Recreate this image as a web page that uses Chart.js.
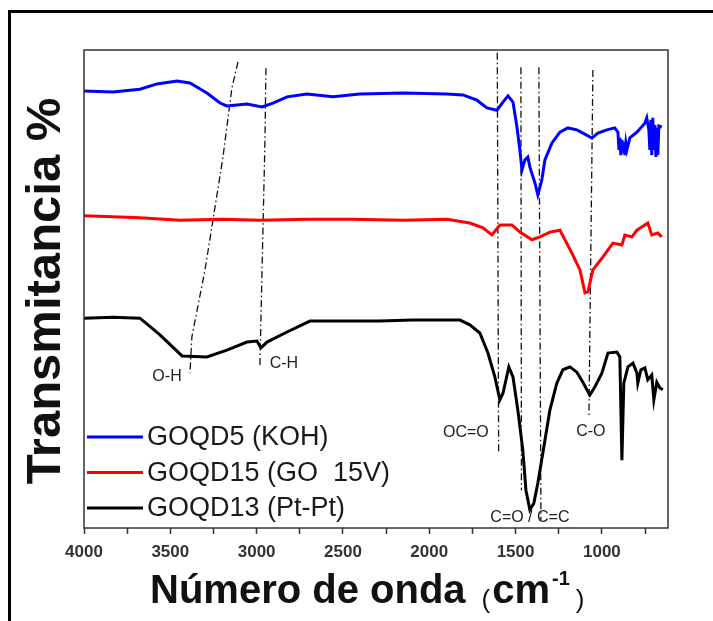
<!DOCTYPE html>
<html>
<head>
<meta charset="utf-8">
<script src="https://cdn.jsdelivr.net/npm/chart.js@4/dist/chart.umd.min.js"></script>
<style>
  html, body { margin: 0; padding: 0; background: #fff; }
  canvas { display: block; }
</style>
</head>
<body>
<canvas id="ftirChart" width="713" height="621"></canvas>
<script>
// wavenumber (cm-1) and transmittance (arbitrary, offset)
const kohWn = [4000, 3832, 3676, 3577, 3461, 3386, 3288, 3212, 3172, 3056, 2969, 2905, 2824, 2709, 2558, 2402, 2150, 1898, 1805, 1724, 1666, 1608, 1573, 1544, 1515, 1492, 1475, 1463, 1446, 1429, 1417, 1388, 1371, 1348, 1330, 1290, 1243, 1197, 1145, 1099, 1058, 1023, 971, 925, 907, 901, 896, 890, 884, 878, 873, 867, 861, 855, 838, 797, 751, 740, 728, 722, 716, 711, 705, 699, 693, 687, 682, 676, 670, 653];
const kohT  = [91.4, 91.2, 91.8, 92.9, 93.5, 93.1, 91.0, 88.9, 88.3, 88.7, 88.1, 88.9, 90.2, 90.8, 90.2, 90.8, 91.0, 90.8, 90.6, 89.5, 87.9, 87.4, 89.1, 90.4, 89.1, 83.9, 79.1, 74.9, 77.0, 77.6, 75.5, 72.2, 69.7, 72.8, 77.0, 80.5, 82.8, 83.7, 83.3, 82.4, 81.6, 82.6, 83.3, 83.7, 82.8, 79.1, 81.6, 78.0, 81.2, 78.5, 80.8, 78.0, 80.5, 79.1, 81.6, 82.8, 84.7, 85.8, 83.3, 79.1, 85.4, 78.0, 85.8, 79.1, 84.3, 77.6, 83.7, 78.0, 84.1, 83.9];

const go15Wn = [4000, 3832, 3676, 3444, 3200, 2981, 2700, 2459, 2150, 1898, 1765, 1689, 1637, 1591, 1521, 1475, 1405, 1359, 1301, 1243, 1214, 1168, 1127, 1098, 1081, 1052, 994, 936, 884, 867, 826, 797, 734, 711, 676, 653];
const go15T  = [65.3, 65.1, 64.9, 64.4, 64.6, 64.4, 64.6, 64.6, 64.4, 64.6, 63.8, 62.8, 61.3, 63.4, 63.4, 61.9, 60.3, 60.9, 61.9, 62.3, 60.3, 57.1, 54.0, 49.2, 49.4, 54.0, 56.7, 59.6, 59.2, 61.3, 60.9, 62.3, 63.8, 61.3, 61.7, 60.9];

const ptWn = [4000, 3832, 3676, 3560, 3432, 3288, 3172, 3056, 2998, 2975, 2940, 2824, 2691, 2477, 2286, 2095, 1822, 1765, 1707, 1660, 1620, 1591, 1573, 1539, 1515, 1487, 1458, 1440, 1417, 1394, 1371, 1342, 1301, 1261, 1226, 1185, 1145, 1110, 1070, 1041, 1000, 965, 913, 896, 884, 873, 849, 820, 797, 792, 774, 751, 734, 711, 699, 682, 664, 647];
const ptT  = [43.9, 44.1, 43.9, 40.4, 36.0, 35.8, 37.2, 38.9, 39.1, 37.7, 38.9, 41.0, 43.3, 43.3, 43.3, 43.5, 43.5, 42.5, 40.8, 36.6, 31.6, 26.8, 28.2, 33.7, 31.6, 24.7, 16.3, 7.9, 3.8, 5.2, 9.4, 15.7, 24.7, 30.3, 33.1, 33.7, 32.6, 30.5, 27.8, 29.5, 32.4, 36.6, 36.8, 35.8, 14.2, 30.3, 33.7, 34.5, 32.4, 30.3, 33.1, 33.5, 31.0, 32.0, 26.8, 30.5, 29.3, 28.9];

const seriesNames = ['GOQD5 (KOH)', 'GOQD15 (GO  15V)', 'GOQD13 (Pt-Pt)'];
const seriesColors = ['#0000ff', '#ff0000', '#000000'];

// band guide lines (dash-dot)
const ohGuideWn = [3108, 3143, 3195, 3253, 3299, 3375, 3386];
const ohGuideT  = [97.5, 92.1, 77.6, 64.4, 54.0, 40.0, 32.4];
const chGuideWn = [2946, 2952, 2963, 2981];
const chGuideT  = [96.2, 80.5, 63.0, 34.1];
const coohGuideWn = [1606, 1598];
const coohGuideT  = [99.4, 15.7];
const c_oGuideWn = [1469, 1466];
const c_oGuideT  = [96.4, 7.9];
const ccGuideWn = [1365, 1353];
const ccGuideT  = [96.4, 1.7];
const coGuideWn = [1052, 1075];
const coGuideT  = [95.8, 23.6];

const bandLabels = ['O-H', 'C-H', 'OC=O', 'C=O / C=C', 'C-O'];
const bandLabelWn = [3519, 2842, 1788, 1417, 1064];
const bandLabelT  = [31.6, 34.3, 19.9, 2.1, 20.1];

const xTicksMajor = [4000, 3500, 3000, 2500, 2000, 1500, 1000];

function pts(xs, ys) {
    return xs.map((x, i) => ({ x: x, y: ys[i] }));
}

function guide(xs, ys) {
    return {
        data: pts(xs, ys),
        borderColor: '#111',
        borderWidth: 1.3,
        borderDash: [7, 3, 1.5, 3],
        pointRadius: 0,
        fill: false,
        order: 2,
        isGuide: true
    };
}

const FONT = '"Liberation Sans", Arial, sans-serif';

const decorPlugin = {
    id: 'decor',
    afterDraw(chart) {
        const ctx = chart.ctx;
        const area = chart.chartArea;
        const xs = chart.scales.x;
        const ys = chart.scales.y;

        ctx.save();
        // outer frame (cropped)
        ctx.strokeStyle = '#000';
        ctx.lineWidth = 3;
        ctx.beginPath();
        ctx.moveTo(9.5, 621);
        ctx.lineTo(9.5, 11.5);
        ctx.lineTo(713, 11.5);
        ctx.stroke();

        // plot box
        ctx.strokeStyle = '#333';
        ctx.lineWidth = 1.5;
        ctx.strokeRect(area.left, area.top, area.right - area.left, area.bottom - area.top);

        // band labels
        ctx.fillStyle = '#222';
        ctx.font = '16px ' + FONT;
        ctx.textAlign = 'center';
        ctx.textBaseline = 'middle';
        bandLabels.forEach((t, i) => {
            ctx.fillText(t, xs.getPixelForValue(bandLabelWn[i]), ys.getPixelForValue(bandLabelT[i]));
        });

        // legend
        const curves = chart.data.datasets.filter(d => !d.isGuide);
        ctx.textAlign = 'left';
        ctx.font = '27px ' + FONT;
        curves.forEach((d, i) => {
            const y = 437 + i * 35.5;
            ctx.strokeStyle = d.borderColor;
            ctx.lineWidth = 3;
            ctx.beginPath();
            ctx.moveTo(area.left + 3, y);
            ctx.lineTo(area.left + 59, y);
            ctx.stroke();
            ctx.fillStyle = '#1a1a1a';
            ctx.fillText(d.label, area.left + 63, y + 1);
        });

        // y title
        ctx.fillStyle = '#111';
        ctx.save();
        ctx.translate(46, 291);
        ctx.rotate(-Math.PI / 2);
        ctx.textAlign = 'center';
        ctx.font = 'bold 49px ' + FONT;
        ctx.fillText('Transmitancia %', 0, 0);
        ctx.restore();

        // x title with superscript
        ctx.textBaseline = 'alphabetic';
        ctx.textAlign = 'left';
        let x = 150;
        const base = 603;
        ctx.font = 'bold 40px ' + FONT;
        ctx.fillText('Número de onda', x, base);
        x += ctx.measureText('Número de onda').width + 16;
        ctx.font = '26px ' + FONT;
        ctx.fillText('(', x, base + 5);
        x += ctx.measureText('(').width + 2;
        ctx.font = 'bold 40px ' + FONT;
        ctx.fillText('cm', x, base);
        x += ctx.measureText('cm').width + 2;
        ctx.font = 'bold 20px ' + FONT;
        ctx.fillText('-1', x, base - 18);
        x += ctx.measureText('-1').width + 6;
        ctx.font = '26px ' + FONT;
        ctx.fillText(')', x, base + 5);
        ctx.restore();
    }
};

const ctx = document.getElementById('ftirChart').getContext('2d');
new Chart(ctx, {
    type: 'line',
    data: {
        datasets: [
            { label: seriesNames[0], data: pts(kohWn, kohT), borderColor: seriesColors[0] },
            { label: seriesNames[1], data: pts(go15Wn, go15T), borderColor: seriesColors[1] },
            { label: seriesNames[2], data: pts(ptWn, ptT), borderColor: seriesColors[2] },
            guide(ohGuideWn, ohGuideT),
            guide(chGuideWn, chGuideT),
            guide(coohGuideWn, coohGuideT),
            guide(c_oGuideWn, c_oGuideT),
            guide(ccGuideWn, ccGuideT),
            guide(coGuideWn, coGuideT)
        ].map(d => d.isGuide ? d : Object.assign(d, {
            borderWidth: 3,
            pointRadius: 0,
            fill: false,
            tension: 0,
            order: 1
        }))
    },
    options: {
        responsive: false,
        animation: false,
        events: [],
        layout: { padding: { left: 84, right: 45, top: 50, bottom: 0 } },
        plugins: {
            legend: { display: false },
            tooltip: { enabled: false }
        },
        scales: {
            x: {
                type: 'linear',
                reverse: true,
                min: 617,
                max: 4000,
                afterFit(scale) { scale.height = 93; },
                border: { display: false },
                grid: {
                    drawOnChartArea: false,
                    drawTicks: true,
                    tickLength: 6,
                    tickColor: '#333',
                    tickWidth: 1.5
                },
                ticks: {
                    stepSize: 250,
                    includeBounds: false,
                    autoSkip: false,
                    maxRotation: 0,
                    padding: 8,
                    color: '#333',
                    font: { family: FONT, size: 17, weight: 'bold' },
                    callback: v => xTicksMajor.includes(v) ? String(v) : ''
                }
            },
            y: {
                display: false,
                min: 0,
                max: 100
            }
        }
    },
    plugins: [decorPlugin]
});
</script>
</body>
</html>
